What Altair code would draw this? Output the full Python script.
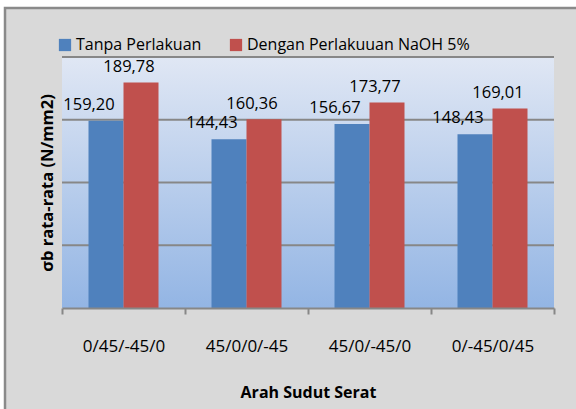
import altair as alt
import pandas as pd

categories = ["0/45/-45/0", "45/0/0/-45", "45/0/-45/0", "0/-45/0/45"]
series = ["Tanpa Perlakuan", "Dengan Perlakuuan NaOH 5%"]
tanpa = [159.20, 144.43, 156.67, 148.43]
naoh = [189.78, 160.36, 173.77, 169.01]
grid_values = [60, 110, 160, 210]

rows = []
for c, a, b in zip(categories, tanpa, naoh):
    rows.append({"cat": c, "series": series[0], "val": a, "label": f"{a:.2f}".replace(".", ",")})
    rows.append({"cat": c, "series": series[1], "val": b, "label": f"{b:.2f}".replace(".", ",")})
df = pd.DataFrame(rows)

W, H = 492, 251
FONT = "Open Sans"
YMIN, YMAX = 10, 210
one = pd.DataFrame({"a": [0]})

white_top = alt.Chart(one).mark_rect(fill="white", clip=False).encode(
    x=alt.value(-70), x2=alt.value(600), y=alt.value(-70), y2=alt.value(8 - 57))
white_left = alt.Chart(one).mark_rect(fill="white", clip=False).encode(
    x=alt.value(-70), x2=alt.value(5 - 62), y=alt.value(-70), y2=alt.value(500))
border = alt.Chart(one).mark_rect(
    fill=None, stroke="#8a8a8a", strokeWidth=2.5, clip=False
).encode(x=alt.value(5 - 62), x2=alt.value(576 - 62 + 10),
         y=alt.value(8 - 57), y2=alt.value(409 - 57 + 10))

grad = alt.Gradient(gradient="linear",
                    stops=[alt.GradientStop(color="#e0e7f4", offset=0),
                           alt.GradientStop(color="#93b5e4", offset=1)],
                    x1=0, x2=0, y1=0, y2=1)
bg = alt.Chart(one).mark_rect(color=grad).encode(
    x=alt.value(0), x2=alt.value(W), y=alt.value(0), y2=alt.value(H))

yscale = alt.Scale(domain=[YMIN, YMAX], zero=False, nice=False)
grid = alt.Chart(pd.DataFrame({"g": grid_values})).mark_rule(
    color="#878787", strokeWidth=2
).encode(y=alt.Y("g:Q", scale=yscale), x=alt.value(0), x2=alt.value(W))

x_enc = alt.X("cat:N", sort=categories,
              scale=alt.Scale(paddingInner=0, paddingOuter=0),
              axis=alt.Axis(title="Arah Sudut Serat", labelAngle=0, labelFont=FONT,
                            labelFontSize=17, labelColor="#000", labelPadding=24,
                            titleFont=FONT, titleFontSize=16, titleFontWeight="bold",
                            titleColor="#000", titlePadding=30,
                            domainColor="#878787", domainWidth=2,
                            tickColor="#878787", tickWidth=2, tickSize=6,
                            tickBand="extent", grid=False, zindex=2))
xo = alt.XOffset("series:N", sort=series,
                 scale=alt.Scale(paddingInner=0, paddingOuter=0.757))
y_enc = alt.Y("val:Q", scale=yscale,
              axis=alt.Axis(title="σb rata-rata (N/mm2)",
                            labels=False, ticks=False, domain=False, grid=False,
                            titleFont=FONT, titleFontSize=16.5, titleFontWeight="bold",
                            titleColor="#000", titlePadding=7, zindex=2))

bars = alt.Chart(df).mark_bar(clip=True).encode(
    x=x_enc, xOffset=xo, y=y_enc, y2=alt.datum(YMIN),
    color=alt.Color("series:N", sort=series,
                    scale=alt.Scale(domain=series, range=["#4f81bd", "#c0504d"]),
                    legend=alt.Legend(title=None, orient="none", legendX=-5, legendY=-20,
                                      direction="horizontal", symbolType="square",
                                      symbolSize=150, symbolStrokeWidth=0,
                                      labelFont=FONT, labelFontSize=16, labelColor="#000",
                                      labelOffset=3, columnPadding=26, labelLimit=400))
)

labels_blue = alt.Chart(df[df.series == series[0]]).mark_text(
    font=FONT, fontSize=16.5, color="#000", baseline="bottom", dx=-17, dy=-8
).encode(x=alt.X("cat:N", sort=categories), xOffset=xo, y=alt.Y("val:Q"), text="label:N")
labels_red = alt.Chart(df[df.series == series[1]]).mark_text(
    font=FONT, fontSize=16.5, color="#000", baseline="bottom", dx=-12, dy=-7
).encode(x=alt.X("cat:N", sort=categories), xOffset=xo, y=alt.Y("val:Q"), text="label:N")

chart = alt.layer(white_top, white_left, border, bg, grid, bars,
                  labels_blue, labels_red).properties(
    width=W, height=H,
    autosize=alt.AutoSizeParams(type="none"),
    padding={"left": 62, "top": 57, "right": 22, "bottom": 101},
    background="#d9d9d9",
).configure_view(stroke=None)

chart.save("out.html", embed_options={"renderer": "svg", "actions": False})
